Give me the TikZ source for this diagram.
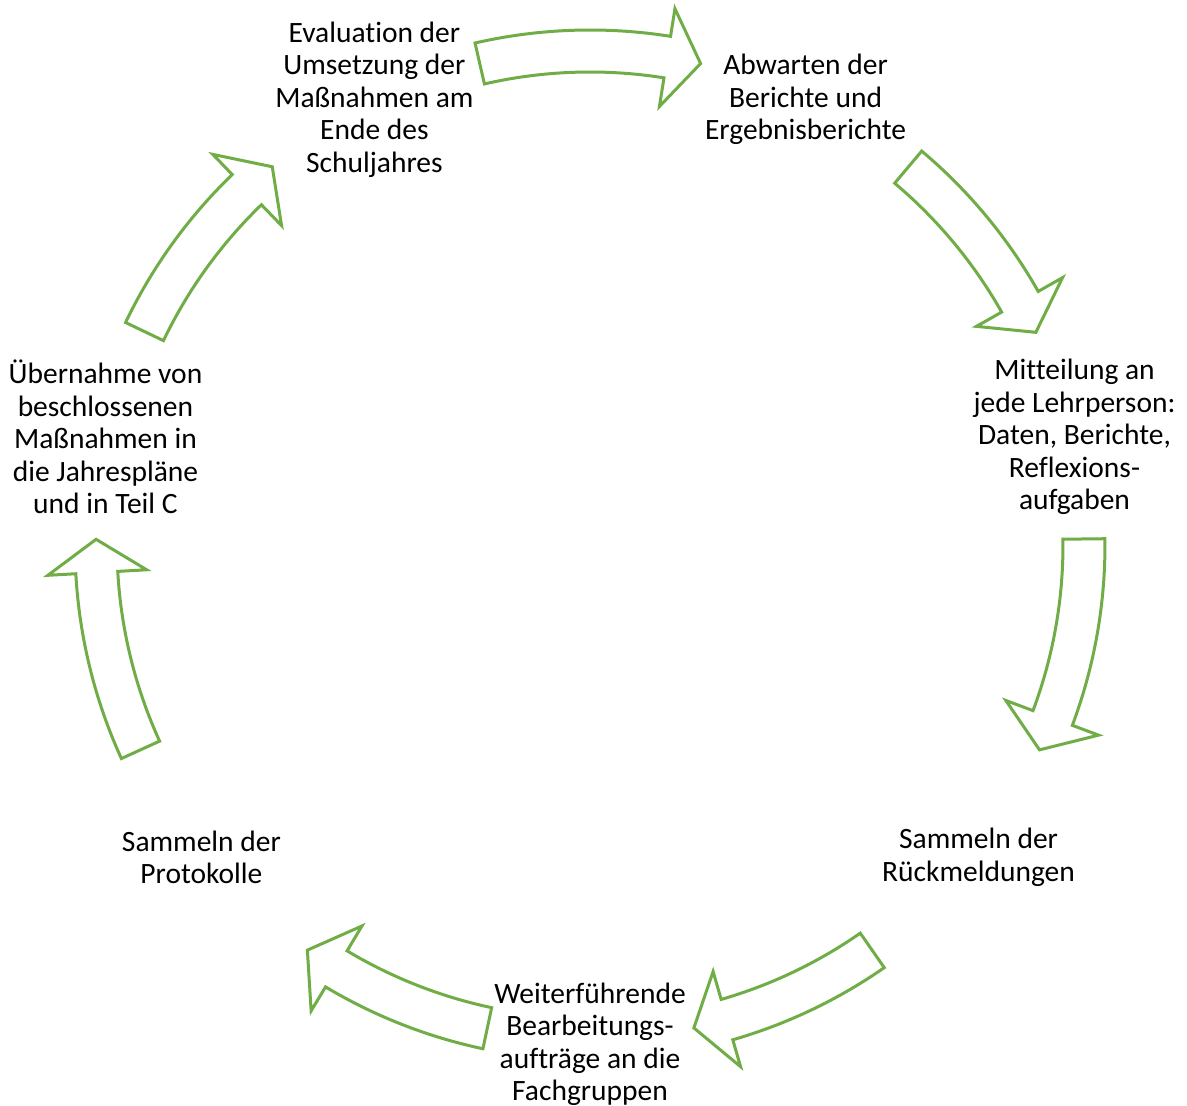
\documentclass[tikz,border=0pt]{standalone}
\usepackage{fontspec}
\setmainfont[Ligatures=NoCommon]{Carlito}
\tikzset{
  arr/.style={draw=arrgreen, line width=3pt, fill=white, line join=miter},
  lbl/.style={align=center, inner sep=0pt, yshift=-2.5pt, font=\fontsize{29.5}{32.5}\selectfont}
}
\definecolor{arrgreen}{HTML}{70AD47}
% #1 tail angle, #2 neck angle, #3 tip angle
\newcommand{\cyclearrow}[3]{%
  \draw[arr] ({#1}:515) arc[start angle={#1}, end angle={#2}, radius=515]
    -- ({#2}:543) -- ({#3}:494) -- ({#2}:444) -- ({#2}:473)
    arc[start angle={#2}, end angle={#1}, radius=473] -- cycle;}
\begin{document}
\begin{tikzpicture}[x=1pt,y=1pt]
\useasboundingbox (-590,-561) rectangle (597,545);
\cyclearrow{102.9}{81.0}{77.06}
\cyclearrow{49.9}{29.5}{25.5}
\cyclearrow{0.7}{-20.5}{-24.5}
\cyclearrow{-55.15}{-73.9}{-77.86}
\cyclearrow{258.0}{239.1}{235.1}
\cyclearrow{204.5}{183.2}{179.34}
\cyclearrow{154.4}{134.0}{130.03}
\node[lbl] (n1) at (115.71:497) {Evaluation der\\Umsetzung der\\Maßnahmen am\\Ende des\\Schuljahres};
\node[lbl] (n2) at (64.29:497) {Abwarten der\\Berichte und\\Ergebnisberichte};
\node[lbl] (n3) at (12.86:497) {Mitteilung an\\jede Lehrperson:\\Daten, Berichte,\\Reflexions-\\aufgaben};
\node[lbl] (n4) at (-38.57:497) {Sammeln der\\Rückmeldungen};
\node[lbl] (n5) at (-90:497) {Weiterführende\\Bearbeitungs-\\aufträge an die\\Fachgruppen};
\node[lbl] (n6) at (-141.43:497) {Sammeln der\\Protokolle};
\node[lbl] (n7) at (167.14:497) {Übernahme von\\beschlossenen\\Maßnahmen in\\die Jahrespläne\\und in Teil C};
\end{tikzpicture}
\end{document}
